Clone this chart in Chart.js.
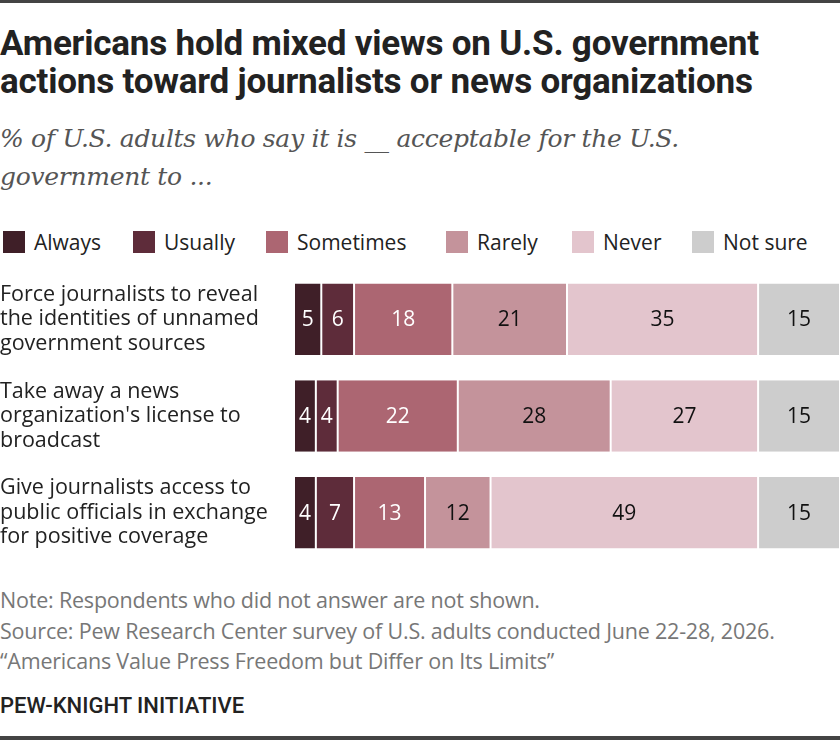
<!DOCTYPE html>
<html>
<head>
<meta charset="utf-8">
<script src="https://cdn.jsdelivr.net/npm/chart.js@4.4.0/dist/chart.umd.min.js"></script>
<style>
  html, body { margin: 0; padding: 0; background: #fff; }
  body { width: 840px; height: 740px; position: relative; overflow: hidden;
         font-family: "Open Sans", "Roboto", sans-serif; color: #222; }
  .topline { position: absolute; left: 0; top: 0; width: 840px; height: 3px; background: #444; }
  .botline { position: absolute; left: 0; bottom: 0; width: 840px; height: 4px; background: #444; }
  h1 { position: absolute; left: 0; top: 25px; margin: 0; font-family: "Roboto", sans-serif; font-size: 35px;
       line-height: 38px; font-weight: bold; color: #222; letter-spacing: -0.2px; }
  .sub { position: absolute; left: 0; top: 120px; margin: 0; font-family: "DejaVu Serif", serif;
         font-style: italic; font-size: 25px; line-height: 38px; color: #555; letter-spacing: -0.3px; }
  .legend { position: absolute; left: 0; top: 231px; height: 24px; }
  .legend div { position: absolute; top: 0; white-space: nowrap; font-size: 21px; line-height: 22px; }
  .legend span { display: inline-block; width: 22px; height: 22px; vertical-align: top; margin-right: 9px; }
  .notes { position: absolute; left: 0; top: 585px; font-size: 21.5px; line-height: 30.5px; color: #777; letter-spacing: -0.2px; }
  .brand { position: absolute; left: 0; top: 693px; font-family: "Roboto", sans-serif; font-size: 22px; color: #222; font-weight: 500; }
  #wrap { position: absolute; left: 0; top: 271px; width: 840px; height: 290px; }
</style>
</head>
<body>
<div class="topline"></div>
<h1>Americans hold mixed views on U.S. government<br>actions toward journalists or news organizations</h1>
<p class="sub">% of U.S. adults who say it is __ acceptable for the U.S.<br>government to ...</p>
<div class="legend" id="legend"></div>
<div id="wrap"><canvas id="chart" width="840" height="290"></canvas></div>
<div class="notes">Note: Respondents who did not answer are not shown.<br>Source: Pew Research Center survey of U.S. adults conducted June 22-28, 2026.<br>“Americans Value Press Freedom but Differ on Its Limits”</div>
<div class="brand">PEW-KNIGHT INITIATIVE</div>
<div class="botline"></div>
<script>
// Chart data
const categories = [
    ["Force journalists to reveal", "the identities of unnamed", "government sources"],
    ["Take away a news", "organization's license to", "broadcast"],
    ["Give journalists access to", "public officials in exchange", "for positive coverage"]
];
const seriesNames = ["Always", "Usually", "Sometimes", "Rarely", "Never", "Not sure"];
const always = [5, 4, 4];
const usually = [6, 4, 7];
const sometimes = [18, 22, 13];
const rarely = [21, 28, 12];
const never = [35, 27, 49];
const notSure = [15, 15, 15];

const colors = ["#3f1f28", "#5e2c3a", "#ac6672", "#c4939b", "#e3c5cd", "#cdcdcd"];
const labelColors = ["#fff", "#fff", "#fff", "#111", "#111", "#111"];
const legendX = [3, 133, 266, 446, 572, 692];
const FONT = '"Open Sans", "Roboto", sans-serif';

// Legend built in HTML
const legend = document.getElementById('legend');
seriesNames.forEach((name, i) => {
    const d = document.createElement('div');
    d.style.left = legendX[i] + 'px';
    d.innerHTML = '<span style="background:' + colors[i] + '"></span>' + name;
    legend.appendChild(d);
});

const allSeries = [always, usually, sometimes, rarely, never, notSure];

// Values inside segments + left-aligned category labels
const textPlugin = {
    id: 'textPlugin',
    afterDatasetsDraw(chart) {
        const ctx = chart.ctx;
        ctx.save();
        ctx.font = '21px ' + FONT;
        ctx.textAlign = 'center';
        ctx.textBaseline = 'middle';
        chart.data.datasets.forEach((ds, i) => {
            chart.getDatasetMeta(i).data.forEach((bar, j) => {
                const p = bar.getProps(['x', 'y', 'base'], true);
                ctx.fillStyle = labelColors[i];
                ctx.fillText(ds.data[j], (p.x + p.base) / 2, p.y + 1);
            });
        });

        const yScale = chart.scales.y;
        ctx.font = '21.5px ' + FONT;
        ctx.textAlign = 'left';
        ctx.fillStyle = '#222';
        categories.forEach((lines, j) => {
            const cy = yScale.getPixelForValue(j);
            lines.forEach((line, k) => {
                ctx.fillText(line, 0, cy + (k - (lines.length - 1) / 2) * 24.5);
            });
        });
        ctx.restore();
    }
};

new Chart(document.getElementById('chart').getContext('2d'), {
    type: 'bar',
    data: {
        labels: categories.map(c => c.join(' ')),
        datasets: allSeries.map((vals, i) => ({
            label: seriesNames[i],
            data: vals,
            backgroundColor: colors[i],
            borderColor: '#fff',
            borderWidth: { left: 1, right: 1, top: 0, bottom: 0 },
            borderSkipped: false,
            categoryPercentage: 0.74,
            barPercentage: 1
        }))
    },
    options: {
        indexAxis: 'y',
        responsive: false,
        animation: false,
        layout: { padding: { left: 294, right: 0, top: 0, bottom: 0 } },
        plugins: { legend: { display: false }, tooltip: { enabled: false } },
        scales: {
            x: { stacked: true, min: 0, max: 100, display: false },
            y: { stacked: true, display: false }
        }
    },
    plugins: [textPlugin]
});
</script>
</body>
</html>
